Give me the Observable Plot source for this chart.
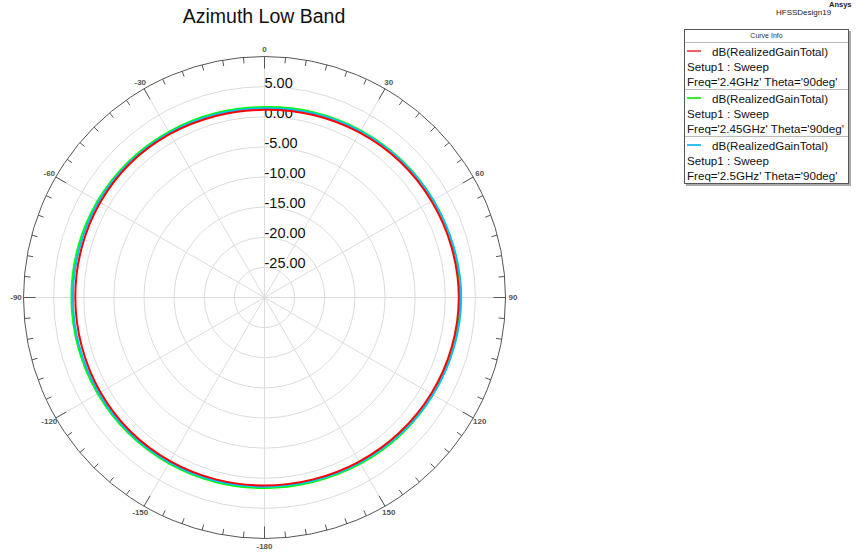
<!DOCTYPE html>
<html>
<head>
<meta charset="utf-8">
<script src="https://cdn.jsdelivr.net/npm/d3@7"></script>
<script src="https://cdn.jsdelivr.net/npm/@observablehq/plot@0.6"></script>
<style>
  html, body { margin: 0; padding: 0; background: #fff; }
  body { width: 862px; height: 554px; position: relative; overflow: hidden; font-family: "Liberation Sans", Arial, sans-serif; }
  #chart { position: absolute; left: 0; top: 0; }
  .title { position: absolute; left: 0; width: 528px; top: 5px; text-align: center; font-size: 19.5px; color: #111; }
  .ansys { position: absolute; left: 829px; top: 0px; font-size: 7.5px; font-weight: bold; color: #222; }
  .design { position: absolute; left: 776px; top: 8px; font-size: 8px; color: #222; }
  .legend { position: absolute; left: 684px; top: 29px; width: 163px; border: 1px solid #555; background: #fff; box-shadow: 2px 2px 0 #aaa; font-size: 11.6px; color: #111; }
  .legend .hdr { height: 12px; border-bottom: 1px solid #bbb; font-size: 7px; text-align: center; line-height: 12px; color: #333; }
  .legend .blk { border-bottom: 1px solid #bbb; padding-top: 1px; }
  .legend .blk:first-of-type { padding-top: 3px; }
  .legend .blk:last-child { border-bottom: none; }
  .legend .row { height: 15px; line-height: 15px; padding-left: 2px; white-space: nowrap; }
  .legend .sw { display: inline-block; width: 14px; height: 2px; vertical-align: middle; margin-right: 11px; position: relative; top: -2px; }
</style>
</head>
<body>
<div id="chart"></div>
<div class="title">Azimuth Low Band</div>
<div class="ansys">Ansys</div>
<div class="design">HFSSDesign19</div>
<div class="legend" id="legend"></div>
<script>
// ---- data ----
const chartTitle = "Azimuth Low Band";
const angleDeg = [0,15,30,45,60,75,90,105,120,135,150,165,180,195,210,225,240,255,270,285,300,315,330,345];
const gain24  = [1.15,1.35,1.6,1.85,2.0,2.15,2.25,2.15,1.95,1.7,1.45,1.25,1.2,1.25,1.35,1.45,1.45,1.4,1.4,1.45,1.5,1.5,1.35,1.2];
const gain245 = [1.6,1.8,2.0,2.2,2.35,2.45,2.5,2.45,2.3,2.1,1.85,1.65,1.6,1.7,1.8,1.9,1.95,2.0,2.05,2.05,2.0,1.9,1.75,1.65];
const gain25  = [1.4,1.6,1.85,2.1,2.3,2.5,2.65,2.5,2.25,1.95,1.65,1.45,1.4,1.5,1.6,1.7,1.75,1.8,1.8,1.8,1.8,1.7,1.55,1.45];
const seriesNames = ["Freq='2.4GHz' Theta='90deg'", "Freq='2.45GHz' Theta='90deg'", "Freq='2.5GHz' Theta='90deg'"];
const seriesColors = ["#ff0000", "#00ff00", "#00c0ff"];
const legendColors = ["#f06060", "#30f030", "#30c0f0"];
const ringValues = [-25, -20, -15, -10, -5, 0, 5];
const ringLabels = ["-25.00", "-20.00", "-15.00", "-10.00", "-5.00", "0.00", "5.00"];
const rMin = -30, rMax = 10;
const spokeAngles = [0,30,60,90,120,150,180,210,240,270,300,330];
const spokeLabels = ["0","30","60","90","120","150","-180","-150","-120","-90","-60","-30"];
const minorStep = 5;

// ---- geometry helpers (data -> polar cartesian in dB units) ----
const W = 862, H = 554, cx = 264, cy = 297, Rpx = 241;
const span = rMax - rMin;
const k = Rpx / span; // px per dB
const rad = a => a * Math.PI / 180;
const px = (a, r) => r * Math.sin(rad(a));
const py = (a, r) => r * Math.cos(rad(a));

const curveData = [];
[gain24, gain245, gain25].forEach((g, si) => {
  g.forEach((v, i) => curveData.push({series: seriesNames[si], a: angleDeg[i], r: v - rMin}));
});
const drawOrder = [1, 2, 0];
const rings = ringValues.map((v, i) => ({r: v - rMin, label: ringLabels[i]}));
const spokes = spokeAngles.map((a, i) => ({a, label: spokeLabels[i]}));
const ticks = d3.range(0, 360, minorStep).map(a => ({a, major: a % 30 === 0}));

const chart = Plot.plot({
  width: W, height: H,
  margin: 0,
  x: {domain: [-cx / k, (W - cx) / k], axis: null},
  y: {domain: [-(H - cy) / k, cy / k], axis: null},
  r: {type: "linear", domain: [0, span], range: [0, Rpx]},
  style: {fontFamily: "'Liberation Sans', Arial, sans-serif", background: "transparent"},
  marks: [
    Plot.dot(rings, {x: d => 0, y: d => 0, r: "r", stroke: "#dcdcdc", strokeWidth: 1, fill: "none"}),
    Plot.link(spokes, {x1: d => 0, y1: d => 0, x2: d => px(d.a, span), y2: d => py(d.a, span), stroke: "#dcdcdc", strokeWidth: 1}),
    Plot.dot([{r: span}], {x: d => 0, y: d => 0, r: "r", stroke: "#555", strokeWidth: 1, fill: "none"}),
    Plot.link(ticks, {
      x1: d => px(d.a, span), y1: d => py(d.a, span),
      x2: d => px(d.a, span - (d.major ? 12 : 6) / k), y2: d => py(d.a, span - (d.major ? 12 : 6) / k),
      stroke: "#555", strokeWidth: 1
    }),
    Plot.text(spokes, {
      x: d => px(d.a, span + 7.5 / k), y: d => py(d.a, span + 7.5 / k), text: "label",
      fontSize: 8, fontWeight: "bold", fill: "#555", textAnchor: "middle"
    }),
    Plot.text(rings, {x: d => 0, y: "r", text: "label", textAnchor: "start", lineAnchor: "bottom", fontSize: 14.5, fill: "#111", dy: 1}),
    ...drawOrder.map(si => Plot.line(curveData.filter(d => d.series === seriesNames[si]), {
      x: d => px(d.a, d.r), y: d => py(d.a, d.r),
      stroke: seriesColors[si], strokeWidth: 2, curve: "catmull-rom-closed"
    }))
  ]
});
document.getElementById("chart").appendChild(chart);

// legend
const lg = document.getElementById("legend");
let html = '<div class="hdr">Curve Info</div>';
seriesNames.forEach((n, i) => {
  html += '<div class="blk">' +
    '<div class="row"><span class="sw" style="background:' + legendColors[i] + '"></span>dB(RealizedGainTotal)</div>' +
    '<div class="row">Setup1 : Sweep</div>' +
    '<div class="row">' + n + '</div></div>';
});
lg.innerHTML = html;
</script>
</body>
</html>
